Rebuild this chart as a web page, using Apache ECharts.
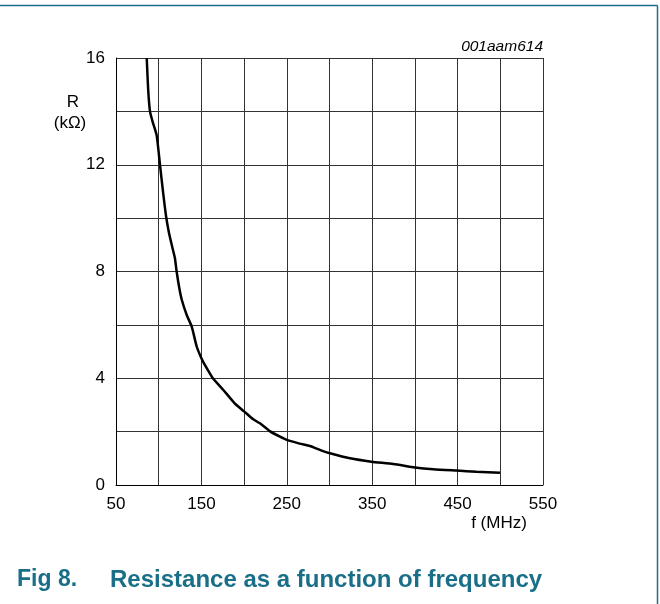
<!DOCTYPE html>
<html>
<head>
<meta charset="utf-8">
<script src="https://cdn.jsdelivr.net/npm/echarts@6/dist/echarts.min.js"></script>
<style>
  html, body { margin: 0; padding: 0; background: #fff; }
  #chart { width: 660px; height: 604px; }
</style>
</head>
<body>
<div id="chart"></div>
<script>
// frequency (MHz) and resistance (kOhm)
const freq = [86, 87.7, 89.8, 93, 97.6, 101.5, 105, 108.5, 112, 116, 119, 121, 124, 127, 132.8, 138.6, 144.5, 150, 154, 163, 175.7, 189, 200.3, 210.7, 218.6, 230, 242, 250, 265, 277, 290, 300.6, 324, 349, 374.7, 400, 421.5, 449, 472, 499.6]
const resistance = [16, 14.8, 14.0, 13.6, 13.1, 12.0, 11.0, 10.1, 9.45, 8.9, 8.5, 8.0, 7.4, 6.94, 6.37, 5.94, 5.19, 4.75, 4.5, 4.02, 3.56, 3.06, 2.75, 2.46, 2.31, 2.02, 1.81, 1.69, 1.55, 1.46, 1.3, 1.19, 1.0, 0.875, 0.79, 0.66, 0.59, 0.54, 0.5, 0.46]

const xTicks = [50, 150, 250, 350, 450, 550]
const yTicks = [0, 4, 8, 12, 16]

const caption = 'Fig 8.'
const captionTitle = 'Resistance as a function of frequency'
const figId = '001aam614'

const chart = echarts.init(document.getElementById('chart'))

const teal = '#1a6f88'
const font = 'Liberation Sans, Arial, sans-serif'

const option = {
  backgroundColor: '#fff',
  animation: false,
  grid: { left: 116, top: 58, width: 427, height: 427, containLabel: false },
  xAxis: {
    type: 'value',
    min: 50,
    max: 550,
    interval: 50,
    axisLine: { show: true, onZero: false, lineStyle: { color: '#000', width: 1 } },
    axisTick: { show: false },
    splitLine: { show: true, lineStyle: { color: '#333', width: 1 } },
    axisLabel: {
      color: '#000',
      fontSize: 17,
      fontFamily: font,
      margin: 11,
      formatter: v => xTicks.includes(v) ? String(v) : ''
    }
  },
  yAxis: {
    type: 'value',
    min: 0,
    max: 16,
    interval: 2,
    axisLine: { show: true, lineStyle: { color: '#000', width: 1 } },
    axisTick: { show: false },
    splitLine: { show: true, lineStyle: { color: '#333', width: 1 } },
    axisLabel: {
      color: '#000',
      fontSize: 17,
      fontFamily: font,
      margin: 11,
      formatter: v => yTicks.includes(v) ? String(v) : ''
    }
  },
  series: [{
    type: 'line',
    data: freq.map((f, i) => [f, resistance[i]]),
    showSymbol: false,
    smooth: 0.2,
    lineStyle: { color: '#000', width: 2.5 },
    clip: true
  }],
  graphic: [
    // frame border (top and right)
    { type: 'line', shape: { x1: 0, y1: 5.5, x2: 657.5, y2: 5.5 }, style: { stroke: teal, lineWidth: 1.5 } },
    { type: 'line', shape: { x1: 657.5, y1: 5.5, x2: 657.5, y2: 604 }, style: { stroke: teal, lineWidth: 1.5 } },
    { type: 'text', x: 73, y: 102, style: { text: 'R', font: '17px ' + font, fill: '#000', align: 'center', verticalAlign: 'middle' } },
    { type: 'text', x: 70, y: 123, style: { text: '(kΩ)', font: '17px ' + font, fill: '#000', align: 'center', verticalAlign: 'middle' } },
    { type: 'text', x: 543, y: 47, style: { text: figId, font: 'italic 15.5px ' + font, fill: '#000', align: 'right', verticalAlign: 'middle' } },
    { type: 'text', x: 499, y: 523, style: { text: 'f (MHz)', font: '17px ' + font, fill: '#000', align: 'center', verticalAlign: 'middle' } },
    { type: 'text', x: 17, y: 580, style: { text: caption, font: 'bold 23px ' + font, fill: teal, verticalAlign: 'middle' } },
    { type: 'text', x: 110, y: 580, style: { text: captionTitle, font: 'bold 24px ' + font, fill: teal, verticalAlign: 'middle' } }
  ]
}

chart.setOption(option)
</script>
</body>
</html>
